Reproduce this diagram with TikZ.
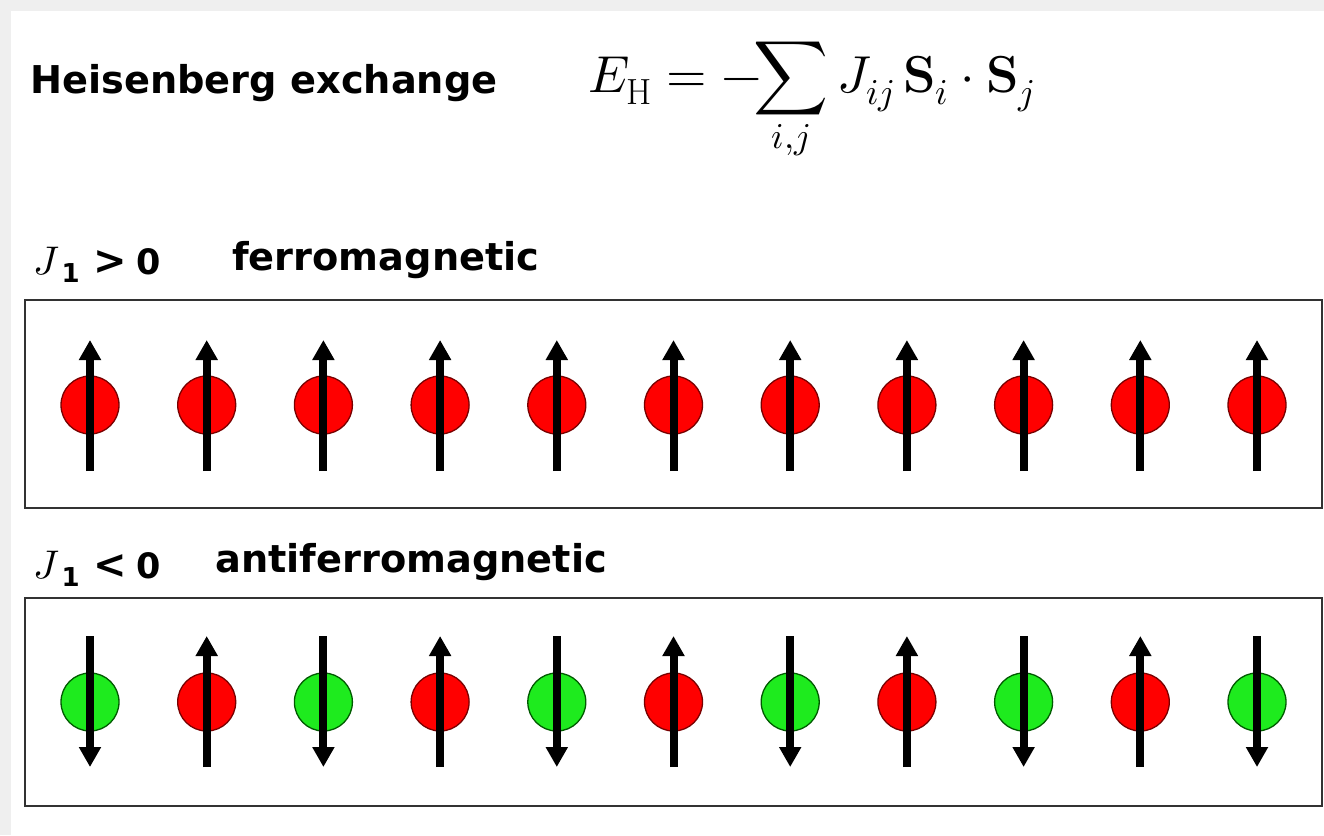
\documentclass[tikz,border=0pt]{standalone}
\usepackage{amsmath}
\usepackage{unicode-math}
\setmathfont{Latin Modern Math}
\setsansfont{DejaVu Sans}
\usetikzlibrary{arrows.meta}
\definecolor{bggray}{RGB}{239,239,239}
\definecolor{spinred}{RGB}{255,0,0}
\definecolor{spinredline}{RGB}{120,0,0}
\definecolor{spingreen}{RGB}{30,235,30}
\definecolor{spingreenline}{RGB}{0,90,0}
\definecolor{boxline}{RGB}{50,50,50}
\newcommand{\jlabel}[1]{{\fontsize{40}{44}\selectfont$J$}\kern2pt\raisebox{-8pt}{\fontsize{26}{30}\selectfont 1}\kern14pt{\fontsize{40}{44}\selectfont#1}\kern9pt{\fontsize{35}{44}\selectfont 0}}
\tikzset{
  lbl/.style={font=\sffamily\bfseries\fontsize{38.3}{44}\selectfont, anchor=base west, inner sep=0pt},
  chainbox/.style={draw=boxline, line width=2.5pt, fill=white},
  upspin/.style={circle, minimum size=58pt, inner sep=0pt, fill=spinred, draw=spinredline, line width=1.3pt},
  downspin/.style={circle, minimum size=58pt, inner sep=0pt, fill=spingreen, draw=spingreenline, line width=1.3pt},
  spinarrow/.style={line width=8pt, -{Triangle[width=21pt,length=20pt]}},
}
\begin{document}
\begin{tikzpicture}[x=1pt,y=-1pt]
\useasboundingbox (0,0) rectangle (1324,835);
\fill[bggray] (0,0) rectangle (1324,835);
\fill[white] (11,11) rectangle (1324,835);

\node[lbl] (title) at (30,93) {Heisenberg exchange};
\node[anchor=base west, inner sep=0pt, font=\fontsize{52}{62}\selectfont] (eq) at (588,92)
  {$\displaystyle E_{\mathrm{H}} = -\!\!\sum_{i,j} J_{ij}\,\mathbf{S}_i\cdot\mathbf{S}_j$};

\node[lbl] (jf) at (33,274) {\jlabel{>}};
\node[lbl] (ferro) at (232,270) {ferromagnetic};
\node[lbl] (ja) at (33,578) {\jlabel{<}};
\node[lbl] (afm) at (215,572) {antiferromagnetic};

\draw[chainbox] (25,300) rectangle (1322,508);
\draw[chainbox] (25,598) rectangle (1322,806);

\foreach \i in {1,...,11} {
  \pgfmathsetmacro{\xx}{90+116.7*(\i-1)}
  \node[upspin] (f\i) at (\xx,405) {};
  \draw[spinarrow] ([yshift=-66pt]f\i.center) -- ([yshift=65pt]f\i.center);
}
\foreach \i in {1,...,11} {
  \pgfmathsetmacro{\xx}{90+116.7*(\i-1)}
  \ifodd\i
    \node[downspin] (a\i) at (\xx,702) {};
    \draw[spinarrow] ([yshift=66pt]a\i.center) -- ([yshift=-65pt]a\i.center);
  \else
    \node[upspin] (a\i) at (\xx,702) {};
    \draw[spinarrow] ([yshift=-65pt]a\i.center) -- ([yshift=66pt]a\i.center);
  \fi
}
\end{tikzpicture}
\end{document}
